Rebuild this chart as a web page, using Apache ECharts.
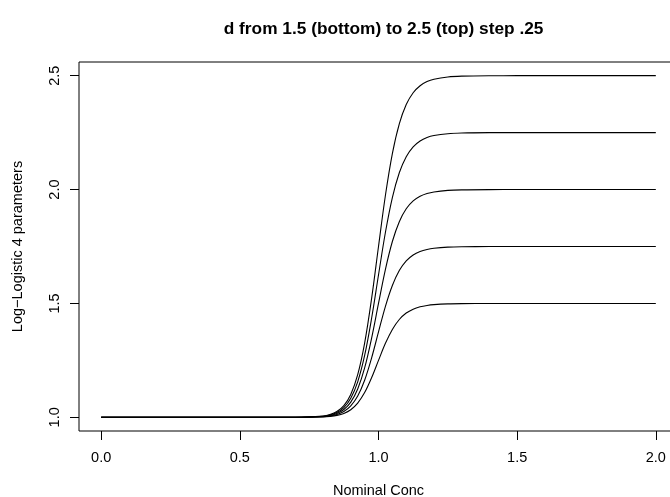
<!DOCTYPE html>
<html>
<head>
<meta charset="utf-8">
<script src="https://cdn.jsdelivr.net/npm/echarts@6/dist/echarts.min.js"></script>
<style>html,body{margin:0;padding:0;background:#fff}#c{width:670px;height:497px}</style>
</head>
<body>
<div id="c"></div>
<script>
// Nominal concentration sample points
var conc = [0, 0.5, 0.7, 0.8, 0.825, 0.85, 0.875, 0.9, 0.925, 0.95, 0.975, 1.0, 1.025, 1.05, 1.075, 1.1, 1.125, 1.15, 1.175, 1.2, 1.25, 1.3, 1.4, 1.5, 2.0];
// Response for each upper asymptote d
var d150 = [1, 1, 1.0001, 1.0019, 1.0041, 1.0085, 1.0172, 1.0335, 1.0624, 1.1086, 1.1735, 1.25, 1.325, 1.386, 1.4295, 1.4578, 1.475, 1.4853, 1.4913, 1.4948, 1.4981, 1.4993, 1.4999, 1.5, 1.5];
var d175 = [1, 1, 1.0001, 1.0029, 1.0061, 1.0127, 1.0257, 1.0503, 1.0935, 1.1629, 1.2603, 1.375, 1.4875, 1.579, 1.6443, 1.6866, 1.7125, 1.7279, 1.737, 1.7422, 1.7472, 1.749, 1.7499, 1.75, 1.75];
var d200 = [1, 1, 1.0001, 1.0038, 1.0081, 1.0169, 1.0343, 1.067, 1.1247, 1.2172, 1.347, 1.5, 1.65, 1.772, 1.859, 1.9155, 1.95, 1.9705, 1.9826, 1.9896, 1.9962, 1.9986, 1.9998, 2, 2];
var d225 = [1, 1, 1.0001, 1.0048, 1.0101, 1.0211, 1.0429, 1.0838, 1.1559, 1.2715, 1.4338, 1.625, 1.8125, 1.965, 2.0738, 2.1444, 2.1875, 2.2131, 2.2283, 2.237, 2.2453, 2.2483, 2.2498, 2.25, 2.25];
var d250 = [1, 1, 1.0002, 1.0057, 1.0122, 1.0254, 1.0515, 1.1005, 1.1871, 1.3258, 1.5205, 1.75, 1.975, 2.158, 2.2885, 2.3733, 2.425, 2.4558, 2.4739, 2.4844, 2.4943, 2.4979, 2.4997, 2.5, 2.5];
var xTicks = [0, 0.5, 1.0, 1.5, 2.0];
var yTicks = [1.0, 1.5, 2.0, 2.5];

var FONT = 'Liberation Sans, Arial, Helvetica, sans-serif';
function pairs(ys) { return conc.map(function (x, i) { return [x, ys[i]]; }); }
function mk(ys) {
  return {
    type: 'line', data: pairs(ys), showSymbol: false, smooth: 0.35,
    lineStyle: { color: '#000', width: 1.1 }, itemStyle: { color: '#000' }, silent: true
  };
}
var chart = echarts.init(document.getElementById('c'), null, { renderer: 'canvas' });
chart.setOption({
  animation: false,
  backgroundColor: '#fff',
  title: {
    text: 'd from 1.5 (bottom) to 2.5 (top) step .25',
    left: 378.6, top: 16, textAlign: 'center',
    textStyle: { fontFamily: FONT, fontSize: 17.3, fontWeight: 'bold', color: '#000' }
  },
  grid: { left: 79, top: 62, width: 599, height: 369, outerBoundsMode: 'none', containLabel: false,
    show: true, borderColor: '#000', borderWidth: 1, backgroundColor: 'transparent' },
  xAxis: {
    type: 'value', min: -0.08, max: 2.08, position: 'bottom',
    name: 'Nominal Conc', nameLocation: 'middle', nameGap: 52,
    nameTextStyle: { fontFamily: FONT, fontSize: 14.5, color: '#000' },
    axisLine: { show: false, onZero: false },
    axisTick: { show: true, inside: false, length: 9, customValues: xTicks, lineStyle: { color: '#000', width: 1 } },
    axisLabel: { customValues: xTicks, margin: 19, fontFamily: FONT, fontSize: 14.5, color: '#000',
      formatter: function (v) { return v.toFixed(1); } },
    splitLine: { show: false }
  },
  yAxis: {
    type: 'value', min: 0.94, max: 2.56, position: 'left',
    name: 'Log\u2212Logistic 4 parameters', nameLocation: 'middle', nameGap: 54,
    nameTextStyle: { fontFamily: FONT, fontSize: 14.5, color: '#000' },
    axisLine: { show: false, onZero: false },
    axisTick: { show: true, inside: false, length: 9, customValues: yTicks, lineStyle: { color: '#000', width: 1 } },
    axisLabel: { customValues: yTicks, rotate: 90, margin: 17, fontFamily: FONT, fontSize: 14.5, color: '#000',
      formatter: function (v) { return v.toFixed(1); } },
    splitLine: { show: false }
  },
  series: [mk(d150), mk(d175), mk(d200), mk(d225), mk(d250)]
});
</script>
</body>
</html>
